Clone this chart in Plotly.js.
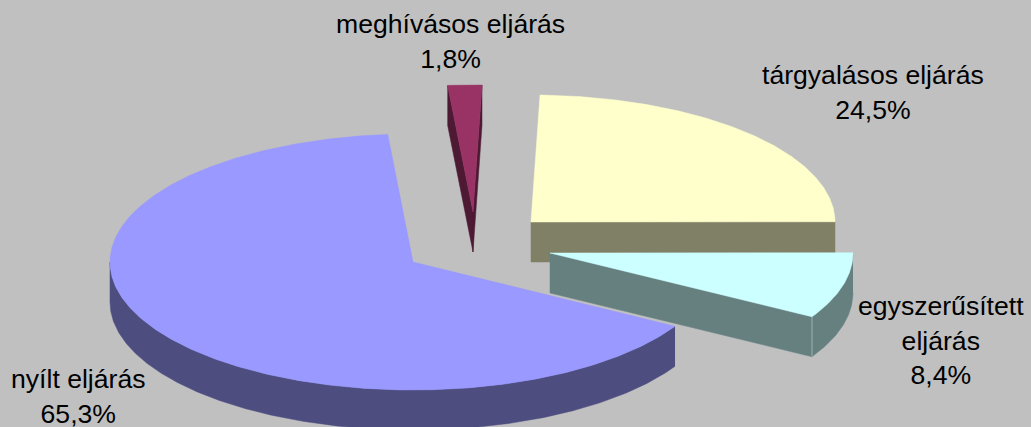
<!DOCTYPE html>
<html>
<head>
<meta charset="utf-8">
<script src="https://cdn.plot.ly/plotly-3.0.1.min.js"></script>
<style>html,body{margin:0;padding:0;background:#c0c0c0;overflow:hidden}</style>
</head>
<body>
<div id="chart" style="width:1031px;height:427px"></div>
<script>
// Data, in the reference's clockwise drawing order
const categories = ["tárgyalásos eljárás", "egyszerűsített<br>eljárás", "nyílt eljárás", "meghívásos eljárás"];
const shares = [24.5, 8.4, 65.3, 1.8];
const shareLabels = ["24,5%", "8,4%", "65,3%", "1,8%"];
const topColors = ["#ffffcc", "#ccffff", "#9999ff", "#993366"];
const sideColors = ["#808066", "#668080", "#4d4d80", "#4d1933"];

// Exploded pie geometry
const startDeg = 1.7;
const apexX = [531, 550, 413, 473];
const apexY = [222, 253, 262, 212];
const radiusX = [304, 303, 303, 304];
const radiusY = [127, 127, 128, 127];
const depth = 40;
const labelX = [873, 941, 78, 450];
const labelY = [92.5, 340, 396.5, 41];

function rim(i, a0, a1, dy) {
  const xs = [], ys = [], n = Math.max(2, Math.ceil((a1 - a0) / 0.5));
  for (let k = 0; k <= n; k++) {
    const a = (a0 + (a1 - a0) * k / n) * Math.PI / 180;
    xs.push(apexX[i] + radiusX[i] * Math.sin(a));
    ys.push(apexY[i] - radiusY[i] * Math.cos(a) + dy);
  }
  return [xs, ys];
}
function face(xs, ys, color) {
  return {type: "scatter", mode: "lines", x: xs, y: ys, fill: "toself", fillcolor: color,
          line: {width: 0.5, color: color}, hoverinfo: "skip", showlegend: false};
}

const total = shares.reduce((s, v) => s + v, 0);
const bounds = [];
let cursor = startDeg;
shares.forEach(v => { const end = cursor + v / total * 360; bounds.push([cursor, end]); cursor = end; });

const sliceTraces = [[], [], [], []];
shares.forEach((v, i) => {
  const [a0, a1] = bounds[i];
  const out = sliceTraces[i];
  const ax = apexX[i], ay = apexY[i];
  const edge = a => rim(i, a, a, 0);
  // visible cut faces
  const cut = a => {
    const [ex, ey] = edge(a);
    return face([ax, ex[0], ex[0], ax, ax], [ay, ey[0], ey[0] + depth, ay + depth, ay], sideColors[i]);
  };
  const cosEnd = Math.cos(a1 * Math.PI / 180), sinEnd = Math.sin(a1 * Math.PI / 180);
  if (sinEnd > 0 && cosEnd <= 0.02) out.push(cut(a1));       // closing edge faces the viewer
  if (i === 3) { out.push(cut(a0)); out.push(cut(a1 > 360 ? a1 - 360 : a1)); }
  // visible outer wall: the front half of the ellipse
  const w0 = Math.max(a0, 90), w1 = Math.min(a1, 270);
  if (w1 > w0) {
    const [tx, ty] = rim(i, w0, w1, 0), [bx, by] = rim(i, w0, w1, depth);
    out.push(face(tx.concat(bx.slice().reverse()), ty.concat(by.slice().reverse()), sideColors[i]));
  }
  // top face
  const [rx, ry] = rim(i, a0, a1, 0);
  out.push(face([ax].concat(rx, [ax]), [ay].concat(ry, [ay]), topColors[i]));
});

// Corner highlight between the two dark faces of the cyan slice
const [cornerX, cornerY] = rim(1, bounds[1][1], bounds[1][1], 0);
const cornerTrace = {type: "scatter", mode: "lines", x: [cornerX[0], cornerX[0]], y: [cornerY[0], cornerY[0] + depth],
                     line: {width: 1, color: "#9db1b1"}, hoverinfo: "skip", showlegend: false};

// Back to front
const traces = [].concat(sliceTraces[3], sliceTraces[0], sliceTraces[1], [cornerTrace], sliceTraces[2]);

const annotations = categories.map((c, i) => ({
  x: labelX[i], y: labelY[i], xref: "x", yref: "y", text: c + "<br>" + shareLabels[i],
  showarrow: false, align: "center", xanchor: "center", yanchor: "middle",
  font: {family: "Liberation Sans, Arial, sans-serif", size: 26.6, color: "#000"}
}));

const hiddenAxis = {visible: false, fixedrange: true, showgrid: false, zeroline: false};
Plotly.newPlot("chart", traces, {
  width: 1031, height: 427,
  margin: {l: 0, r: 0, t: 0, b: 0},
  paper_bgcolor: "#c0c0c0", plot_bgcolor: "#c0c0c0",
  xaxis: Object.assign({range: [0, 1031]}, hiddenAxis),
  yaxis: Object.assign({range: [427, 0]}, hiddenAxis),
  annotations: annotations
}, {staticPlot: true, displayModeBar: false});
</script>
</body>
</html>
